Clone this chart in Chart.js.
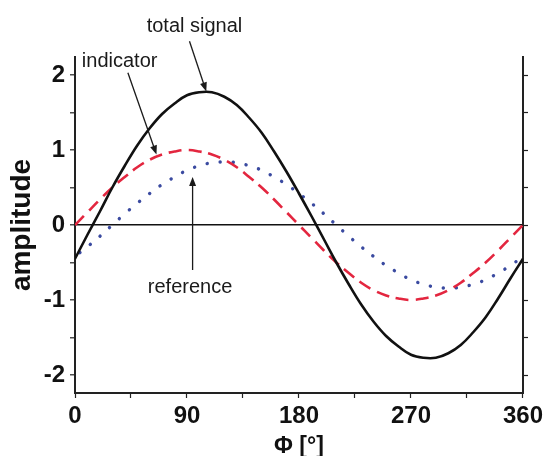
<!DOCTYPE html>
<html>
<head>
<meta charset="utf-8">
<script src="https://cdn.jsdelivr.net/npm/chart.js@4.4.1/dist/chart.umd.min.js"></script>
<style>
  html, body { margin: 0; padding: 0; background: #fff; }
  #wrap { width: 547px; height: 456px; }
</style>
</head>
<body>
<div id="wrap"><canvas id="phaseChart" width="547" height="456"></canvas></div>
<script>
// phase angle in degrees
const phi = [0, 10, 20, 30, 40, 50, 60, 70, 80, 90, 100, 110, 120, 130, 140, 150, 160, 170, 180,
             190, 200, 210, 220, 230, 240, 250, 260, 270, 280, 290, 300, 310, 320, 330, 340, 350, 360];

// values
const indicator = [0, 0.17, 0.34, 0.5, 0.64, 0.77, 0.87, 0.94, 0.98, 1, 0.98, 0.94, 0.87, 0.77, 0.64, 0.5, 0.34, 0.17, 0,
                   -0.17, -0.34, -0.5, -0.64, -0.77, -0.87, -0.94, -0.98, -1, -0.98, -0.94, -0.87, -0.77, -0.64, -0.5, -0.34, -0.17, 0];
const reference = [-0.42, -0.29, -0.15, 0, 0.15, 0.29, 0.42, 0.54, 0.64, 0.73, 0.79, 0.83, 0.84, 0.83, 0.79, 0.73, 0.64, 0.54, 0.42,
                   0.29, 0.15, 0, -0.15, -0.29, -0.42, -0.54, -0.64, -0.73, -0.79, -0.83, -0.84, -0.83, -0.79, -0.73, -0.64, -0.54, -0.42];
const totalSignal = [-0.45, -0.13, 0.18, 0.5, 0.79, 1.06, 1.29, 1.48, 1.62, 1.73, 1.77, 1.77, 1.71, 1.6, 1.43, 1.23, 0.98, 0.71, 0.42,
                     0.12, -0.19, -0.5, -0.79, -1.06, -1.29, -1.48, -1.62, -1.73, -1.77, -1.77, -1.71, -1.6, -1.43, -1.23, -0.98, -0.71, -0.45];

const xTicks = [0, 45, 90, 135, 180, 225, 270, 315, 360];
const xTickLabels = ["0", "", "90", "", "180", "", "270", "", "360"];
const yTicks = [-2, -1.5, -1, -0.5, 0, 0.5, 1, 1.5, 2];
const yTickLabels = ["-2", "", "-1", "", "0", "", "1", "", "2"];

// callouts: text anchor and arrow (tail -> head) in data units
const callouts = [
    { text: "total signal", tx: 96, ty: 2.57, align: "center", from: [92, 2.45], to: [105.5, 1.78] },
    { text: "indicator", tx: 5.5, ty: 2.11, align: "left", from: [42.5, 2.03], to: [65.5, 0.94] },
    { text: "reference", tx: 58.5, ty: -0.91, align: "left", from: [94.5, -0.6], to: [94.5, 0.64] }
];

function toPoints(ys) {
    return phi.map((p, i) => ({ x: p, y: ys[i] }));
}

const tickFont = { family: "'Liberation Sans', Arial, sans-serif", size: 24, weight: "bold" };

function setTicks(list) {
    return function (scale) {
        scale.ticks = list.map(v => ({ value: v }));
    };
}

const calloutPlugin = {
    id: "callouts",
    afterDatasetsDraw(chart) {
        const ctx = chart.ctx;
        const xs = chart.scales.x;
        const ys = chart.scales.y;
        ctx.save();
        ctx.font = "20px 'Liberation Sans', Arial, sans-serif";
        ctx.fillStyle = "#1a1a1a";
        ctx.strokeStyle = "#1a1a1a";
        ctx.textBaseline = "alphabetic";
        callouts.forEach(c => {
            ctx.textAlign = c.align;
            ctx.fillText(c.text, xs.getPixelForValue(c.tx), ys.getPixelForValue(c.ty));
            const x1 = xs.getPixelForValue(c.from[0]), y1 = ys.getPixelForValue(c.from[1]);
            const x2 = xs.getPixelForValue(c.to[0]), y2 = ys.getPixelForValue(c.to[1]);
            const ang = Math.atan2(y2 - y1, x2 - x1);
            const len = 9, wid = 3.5;
            ctx.lineWidth = 1.3;
            ctx.beginPath();
            ctx.moveTo(x1, y1);
            ctx.lineTo(x2 - Math.cos(ang) * len * 0.8, y2 - Math.sin(ang) * len * 0.8);
            ctx.stroke();
            ctx.beginPath();
            ctx.moveTo(x2, y2);
            ctx.lineTo(x2 - Math.cos(ang) * len + Math.sin(ang) * wid, y2 - Math.sin(ang) * len - Math.cos(ang) * wid);
            ctx.lineTo(x2 - Math.cos(ang) * len - Math.sin(ang) * wid, y2 - Math.sin(ang) * len + Math.cos(ang) * wid);
            ctx.closePath();
            ctx.fill();
        });
        ctx.restore();
    }
};

const data = {
    datasets: [
        {
            label: "total signal",
            data: toPoints(totalSignal),
            borderColor: "#111",
            borderWidth: 2.6,
            pointRadius: 0,
            tension: 0.4,
        },
        {
            label: "indicator",
            data: toPoints(indicator),
            borderColor: "#e3263f",
            borderWidth: 2.6,
            borderDash: [13, 7],
            pointRadius: 0,
            tension: 0.4,
        },
        {
            label: "reference",
            data: toPoints(reference),
            borderColor: "#3a4aa0",
            borderWidth: 3.4,
            borderDash: [0.1, 13],
            borderDashOffset: -6,
            borderCapStyle: "round",
            pointRadius: 0,
            tension: 0.4,
        },
    ],
};

const config = {
    type: "line",
    data: data,
    plugins: [calloutPlugin],
    options: {
        responsive: false,
        animation: false,
        layout: { padding: { top: 57, right: 0, left: 0, bottom: 0 } },
        plugins: { legend: { display: false }, tooltip: { enabled: false } },
        scales: {
            x: {
                type: "linear",
                min: 0,
                max: 360,
                afterBuildTicks: setTicks(xTicks),
                afterFit: s => { s.height = 63; },
                border: { display: true, color: "#222", width: 2 },
                grid: { drawOnChartArea: false, drawTicks: true, tickLength: 5, tickColor: "#222", tickWidth: 1.2 },
                ticks: {
                    color: "#111",
                    font: tickFont,
                    padding: 4,
                    maxRotation: 0,
                    autoSkip: false,
                    callback: (v, i) => xTickLabels[i],
                },
                title: {
                    display: true,
                    text: "Φ [°]",
                    color: "#111",
                    font: { family: "'Liberation Sans', Arial, sans-serif", size: 23, weight: "bold" },
                    padding: { top: 0, bottom: -4 },
                },
            },
            y: {
                min: -2.24,
                max: 2.24,
                afterBuildTicks: setTicks(yTicks),
                afterFit: s => { s.width = 75; },
                border: { display: true, color: "#222", width: 2 },
                grid: {
                    drawOnChartArea: true,
                    drawTicks: true,
                    tickLength: 5,
                    tickColor: "#222",
                    tickWidth: 1.2,
                    color: c => (c.tick && c.tick.value === 0 ? "#111" : "rgba(0,0,0,0)"),
                    lineWidth: 1.6,
                },
                ticks: {
                    color: "#111",
                    font: tickFont,
                    padding: 5,
                    autoSkip: false,
                    callback: (v, i) => yTickLabels[i],
                },
                title: {
                    display: true,
                    text: "amplitude",
                    color: "#111",
                    font: { family: "'Liberation Sans', Arial, sans-serif", size: 28, weight: "bold" },
                    padding: { top: 5, bottom: 0 },
                },
            },
            y2: {
                position: "right",
                min: -2.24,
                max: 2.24,
                afterBuildTicks: setTicks(yTicks),
                afterFit: s => { s.width = 22; },
                border: { display: true, color: "#222", width: 2 },
                grid: { drawOnChartArea: false, drawTicks: true, tickLength: 5, tickColor: "#222", tickWidth: 1.2 },
                ticks: { display: true, callback: () => "" },
            },
        },
    },
};

const phaseChart = new Chart(document.getElementById("phaseChart"), config);
</script>
</body>
</html>
